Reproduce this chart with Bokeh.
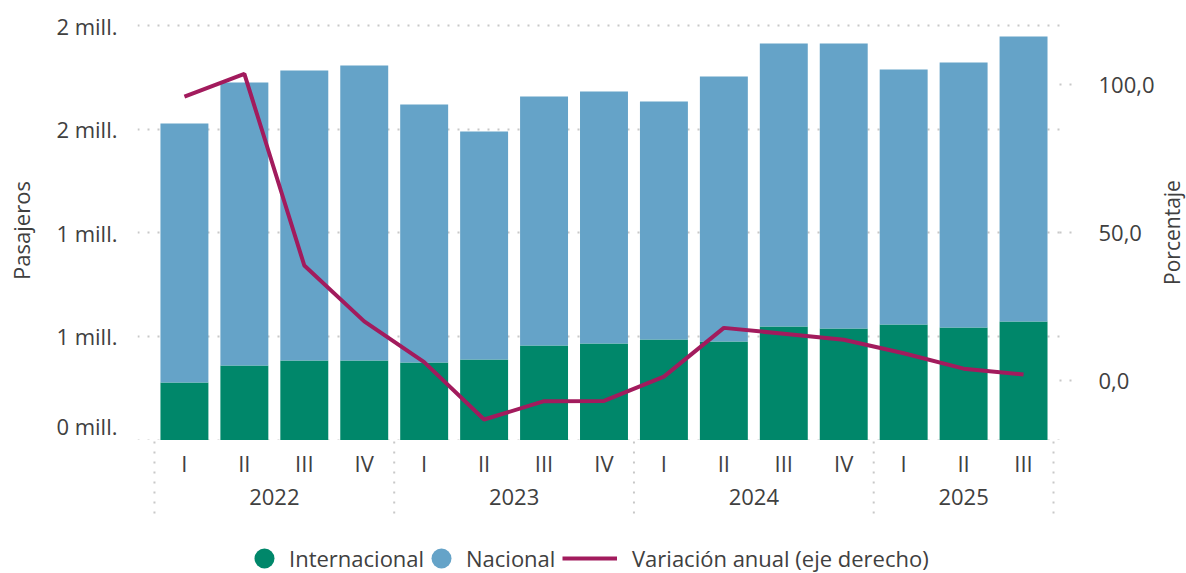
import math
from bokeh.plotting import figure
from bokeh.layouts import column, row
from bokeh.models import (Range1d, LinearAxis, FixedTicker, CustomJSTickFormatter,
                          ColumnDataSource, Legend, LegendItem)
from bokeh.embed import file_html
from bokeh.resources import INLINE
from bokeh.core.properties import value

# ---------------- data ----------------
anio = ["2022"] * 4 + ["2023"] * 4 + ["2024"] * 4 + ["2025"] * 3
trimestre = ["I", "II", "III", "IV", "I", "II", "III", "IV",
             "I", "II", "III", "IV", "I", "II", "III"]
internacional = [278000, 360000, 384000, 384000, 374000, 389000, 456000, 466000,
                 485000, 475000, 548000, 538000, 557000, 543000, 572000]
nacional = [1249000, 1365000, 1399000, 1423000, 1245000, 1100000, 1202000, 1216000,
            1149000, 1279000, 1366000, 1376000, 1231000, 1279000, 1375000]
variacion = [96.0, 103.7, 38.9, 20.0, 6.2, -13.2, -7.0, -6.9,
             1.3, 17.8, 15.8, 13.8, 9.2, 4.0, 2.0]
left_ticks = [0, 500000, 1000000, 1500000, 2000000]
right_ticks = [0, 50, 100]

# ---------------- styles ----------------
VERDE = "#00876a"
AZUL = "#65a3c8"
LINEA = "#a21b5d"
TEXTO = "#404040"
GRID = "#c8c8c8"
FONT = "Open Sans"
FS = "22px"
W_MAIN = 1157          # width of the chart column
W_SIDE = 29            # strip for the right-hand axis title
BL, BR = 137, 91       # borders -> plot frame from x=137 to x=1066

idx = list(range(len(trimestre)))
src = ColumnDataSource(dict(x=idx, internacional=internacional, nacional=nacional,
                            variacion=variacion, trimestre=trimestre))

x_range = Range1d(-0.783, 14.7)

# ================= main chart =================
p = figure(width=W_MAIN, height=440, x_range=x_range,
           y_range=Range1d(-2400, 2024600),
           output_backend="svg", toolbar_location=None, x_axis_location=None,
           min_border_left=BL, min_border_right=BR, min_border_top=20,
           min_border_bottom=0)
p.outline_line_color = None
p.xgrid.visible = False

left = p.yaxis[0]
left.ticker = FixedTicker(ticks=left_ticks)
left.formatter = CustomJSTickFormatter(code="return Math.round(tick/1e6) + ' mill.';")
left.axis_line_color = None
left.major_tick_line_color = None
left.minor_tick_line_color = None
left.major_label_standoff = 14
left.major_label_text_font = FONT
left.major_label_text_font_size = FS
left.major_label_text_color = TEXTO
left.axis_label = "Pasajeros"
left.axis_label_text_font = FONT
left.axis_label_text_font_size = FS
left.axis_label_text_font_style = "normal"
left.axis_label_text_color = TEXTO
left.axis_label_standoff = 17

p.ygrid.grid_line_color = GRID
p.ygrid.grid_line_dash = "2 8"
p.ygrid.grid_line_width = 2

p.extra_y_ranges = {"pct": Range1d(-20.29, 121.75)}
right = LinearAxis(y_range_name="pct", ticker=FixedTicker(ticks=right_ticks),
                   formatter=CustomJSTickFormatter(code="return tick.toFixed(1).replace('.', ',');"))
right.axis_line_color = None
right.minor_tick_line_color = None
right.major_tick_line_color = GRID
right.major_tick_line_dash = "2 8"
right.major_tick_line_width = 2
right.major_tick_in = 6
right.major_tick_out = 6
right.major_label_standoff = 27
right.major_label_text_font = FONT
right.major_label_text_font_size = FS
right.major_label_text_color = TEXTO
p.add_layout(right, "right")

p.vbar_stack(["internacional", "nacional"], x="x", width=0.8, source=src,
             fill_color=[VERDE, AZUL], line_color=None)

p.line("x", "variacion", source=src, y_range_name="pct",
       line_color=LINEA, line_width=4)

# ================= category axis + legend strip =================
b = figure(width=W_MAIN, height=133, x_range=x_range, y_range=Range1d(-133, 0),
           output_backend="svg", toolbar_location=None,
           x_axis_location=None, y_axis_location=None,
           min_border_left=BL, min_border_right=BR, min_border_top=0,
           min_border_bottom=0)
b.outline_line_color = None
b.xgrid.visible = False
b.ygrid.visible = False

b.text(x="x", y=0, text="trimestre", source=src, y_offset=22,
       text_align="center", text_baseline="middle",
       text_font=value(FONT), text_font_size=FS, text_color=TEXTO)

years = []
for a in anio:
    if a not in years:
        years.append(a)
centers, bounds = [], [-0.5]
for y in years:
    ii = [i for i, a in enumerate(anio) if a == y]
    centers.append(sum(ii) / len(ii))
    bounds.append(ii[-1] + 0.5)
b.text(x=centers, y=[0] * len(years), text=years, y_offset=56,
       text_align="center", text_baseline="middle",
       text_font=value(FONT), text_font_size=FS, text_color=TEXTO)

SEP_TOP, SEP_BOTTOM = -1, -78
b.segment(x0=bounds, y0=[SEP_TOP] * len(bounds), x1=bounds, y1=[SEP_BOTTOM] * len(bounds),
          line_color=GRID, line_dash="2 8", line_width=2)

nan = float("nan")
r_int = b.scatter(x=[nan], y=[nan], marker="circle", size=20, fill_color=VERDE, line_color=None)
r_nac = b.scatter(x=[nan], y=[nan], marker="circle", size=20, fill_color=AZUL, line_color=None)
r_lin = b.line(x=[nan, nan], y=[nan, nan], line_color=LINEA, line_width=4)

common = dict(orientation="horizontal", padding=0, margin=0, border_line_color=None,
              background_fill_alpha=0, label_text_font=FONT, label_text_font_size=FS,
              label_text_color=TEXTO, glyph_height=50)
legI = Legend(items=[LegendItem(label="Internacional", renderers=[r_int])],
              location=(102, -10), glyph_width=50, label_standoff=0, **common)
legN = Legend(items=[LegendItem(label="Nacional", renderers=[r_nac])],
              location=(279, -10), glyph_width=50, label_standoff=0, **common)
legV = Legend(items=[LegendItem(label="Variación anual (eje derecho)", renderers=[r_lin])],
              location=(425, -10), glyph_width=55, label_standoff=15, **common)
b.add_layout(legI)
b.add_layout(legN)
b.add_layout(legV)

# ================= right-hand axis title strip =================
s = figure(width=W_SIDE, height=573, x_range=Range1d(0, W_SIDE), y_range=Range1d(573, 0),
           output_backend="svg", toolbar_location=None,
           x_axis_location=None, y_axis_location=None,
           min_border_left=0, min_border_right=0, min_border_top=0, min_border_bottom=0)
s.outline_line_color = None
s.xgrid.visible = False
s.ygrid.visible = False
s.text(x=[W_SIDE / 2], y=[232], text=["Porcentaje"], angle=math.pi / 2,
       text_align="center", text_baseline="middle",
       text_font=value(FONT), text_font_size="21px", text_color=TEXTO)

layout = row(column(p, b, spacing=0), s, spacing=0)
open("out.html", "w").write(file_html(layout, INLINE))
